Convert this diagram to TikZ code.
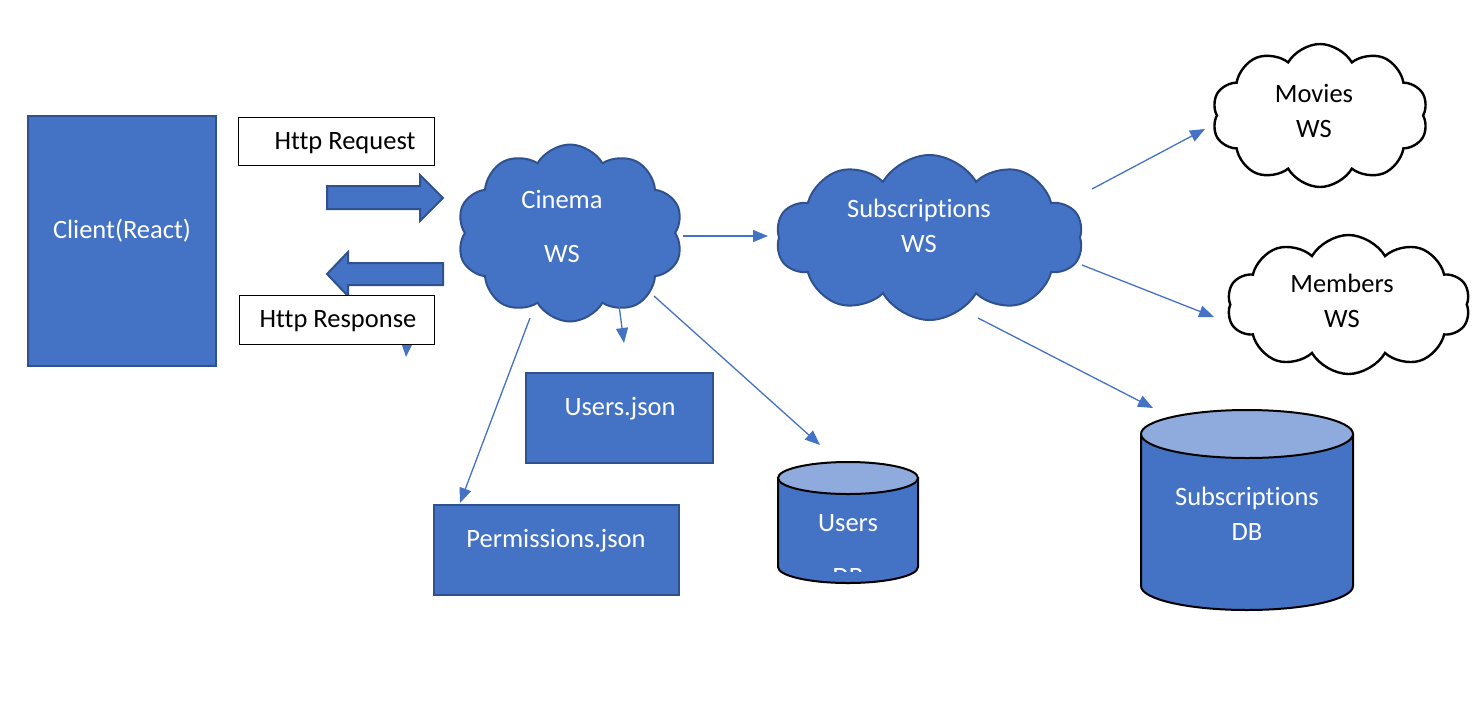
\documentclass[tikz,border=0pt]{standalone}
\usepackage{fontspec}
\setmainfont{Carlito}[Ligatures=NoCommon]
\usetikzlibrary{shapes.symbols,arrows.meta,calc}
\definecolor{ofblue}{HTML}{4472C4}
\definecolor{ofdark}{HTML}{2F528F}
\definecolor{oflight}{HTML}{8FAADC}
\begin{document}
\begin{tikzpicture}[x=1pt,y=-1pt,
  txt/.style={font=\fontsize{26.5}{35}\selectfont, align=center, inner sep=0pt},
  wtxt/.style={txt, text=white},
  bluecloud/.style={cloud, cloud puffs=10, cloud puff arc=120, cloud ignores aspect, inner sep=0pt, fill=ofblue, draw=ofdark, line width=2pt},
  whitecloud/.style={cloud, cloud puffs=10, cloud puff arc=120, cloud ignores aspect, inner sep=0pt, fill=white, draw=black, line width=2.4pt},
  bluebox/.style={rectangle, inner sep=0pt, fill=ofblue, draw=ofdark, line width=2pt},
  whitebox/.style={rectangle, inner sep=0pt, fill=white, draw=black, line width=1pt},
  conn/.style={draw=ofblue, line width=1.3pt, -{Triangle[length=15pt,width=12pt]}},
  blockarrow/.style={fill=ofblue, draw=ofdark, line width=2pt, line join=miter},
  cyl/.style={fill=ofblue, draw=black, line width=2pt},
  cyltop/.style={fill=oflight, draw=black, line width=2pt},
]
\useasboundingbox (0,0) rectangle (1472,713);

% ---- nodes (shapes) ----
\node[bluebox, minimum width=188, minimum height=250] (client) at (122,241) {};
\node[wtxt] (clienttext) at (122,231) {Client(React)};

\node[bluecloud, minimum width=226, minimum height=177] (cinema) at (570,233) {};
\node[wtxt] (cinematext) at (562,226) {Cinema\\[19pt]WS};

\node[bluecloud, minimum width=307, minimum height=165] (subws) at (929.5,237.5) {};
\node[wtxt] (subwstext) at (919,225.5) {Subscriptions\\WS};

\node[whitecloud, minimum width=216, minimum height=143] (movies) at (1320,115.5) {};
\node[txt] (moviestext) at (1314,110.5) {Movies\\WS};

\node[whitecloud, minimum width=243, minimum height=139] (members) at (1348.5,304.5) {};
\node[txt] (memberstext) at (1342,300.5) {Members\\WS};

\node[bluebox, minimum width=187, minimum height=90] (usersjson) at (619.5,418) {};
\node[wtxt] (usersjsontext) at (620,409) {Users.json};

\node[bluebox, minimum width=245, minimum height=90] (perm) at (556.5,550) {};
\node[wtxt] (permtext) at (556,541) {Permissions.json};

% ---- cylinders ----
\node[inner sep=0pt, minimum width=140, minimum height=121] (usersdb) at (848,522.5) {};
\path[cyl] (778,478) -- (778,567) arc[start angle=180, end angle=0, x radius=70, y radius=16] -- (918,478) -- cycle;
\path[cyltop] (848,478) ellipse [x radius=70, y radius=16];
\node[wtxt] (usersdbtext) at (848,523) {Users};
\begin{scope}
  \clip (778,500) rectangle (918,571);
  \node[wtxt] (usersdbtext2) at (848,577) {DB};
\end{scope}

\node[inner sep=0pt, minimum width=212, minimum height=200] (subdb) at (1247,510) {};
\path[cyl] (1141,434) -- (1141,586) arc[start angle=180, end angle=0, x radius=106, y radius=24] -- (1353,434) -- cycle;
\path[cyltop] (1247,434) ellipse [x radius=106, y radius=24];
\node[wtxt] (subdbtext) at (1247,513.5) {Subscriptions\\DB};

% ---- block arrows ----
\path[blockarrow] (327,186) -- (420,186) -- (420,175) -- (443,198) -- (420,221) -- (420,209) -- (327,209) -- cycle;
\path[blockarrow] (443,263) -- (348,263) -- (348,252) -- (327,274) -- (348,296) -- (348,285) -- (443,285) -- cycle;

% hidden connector below the response box
\node[inner sep=0pt, minimum width=195, minimum height=49] (respanchor) at (336.5,319.5) {};
\draw[conn] ([shift={(72,0)}]respanchor.center) -- ([shift={(69.5,37.5)}]respanchor.center);

% ---- white label boxes ----
\node[whitebox, minimum width=196, minimum height=48] (req) at (336,141) {};
\node[txt] (reqtext) at (345,143) {Http Request};
\node[whitebox, minimum width=195, minimum height=49] (resp) at (336.5,319.5) {};
\node[txt] (resptext) at (338,321) {Http Response};

% ---- connectors ----
\draw[conn] ([shift={(113,3)}]cinema.center) -- ([shift={(-161.5,-1.5)}]subws.center);
\draw[conn] ([shift={(48,65)}]cinema.center) -- ([shift={(4.5,-75)}]usersjson.center);
\draw[conn] ([shift={(84,63)}]cinema.center) -- ([shift={(-28,-77.5)}]usersdb.center);
\draw[conn] ([shift={(-40,85)}]cinema.center) -- ([shift={(-96.5,-47)}]perm.center);
\draw[conn] ([shift={(162.5,-48.5)}]subws.center) -- ([shift={(-115,13.5)}]movies.center);
\draw[conn] ([shift={(152.5,27.5)}]subws.center) -- ([shift={(-134.5,12.5)}]members.center);
\draw[conn] ([shift={(48.5,80.5)}]subws.center) -- ([shift={(-94,-102)}]subdb.center);
\end{tikzpicture}
\end{document}
